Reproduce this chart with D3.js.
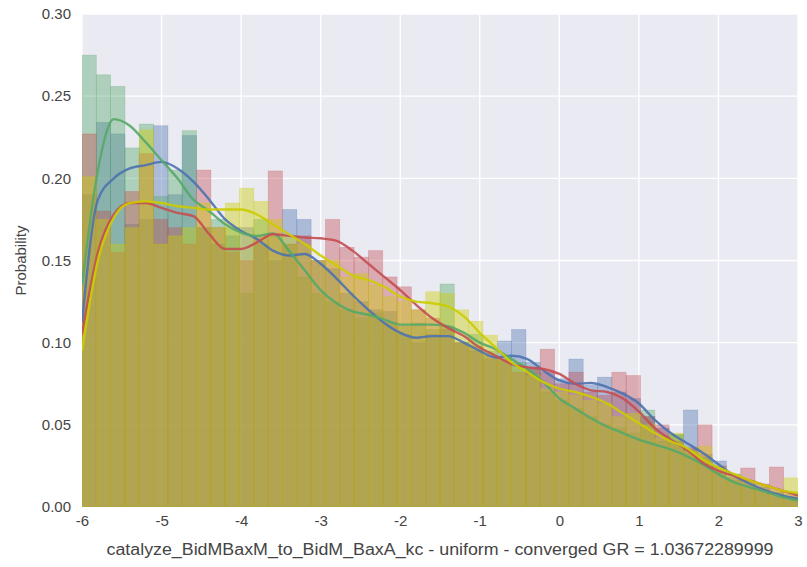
<!DOCTYPE html>
<html>
<head>
<meta charset="utf-8">
<script src="https://cdn.jsdelivr.net/npm/d3@7"></script>
<style>
  body { margin: 0; background: #fff; }
  text { font-family: "Liberation Sans", Arial, sans-serif; }
</style>
</head>
<body>
<div id="d3-container"></div>
<script>
// histogram bins: 50 bins from -6 to 3
const binStart = -6;
const binWidth = 0.18;

const seriesNames = ["chain0", "chain1", "chain2", "chain3"];

const blueHist = [0.19, 0.234, 0.227, 0.172, 0.175, 0.232, 0.19, 0.226, 0.17, 0.16,
  0.165, 0.17, 0.16, 0.15, 0.181, 0.175, 0.15, 0.145, 0.13, 0.125,
  0.12, 0.119, 0.105, 0.1, 0.105, 0.108, 0.1, 0.095, 0.09, 0.101,
  0.108, 0.088, 0.082, 0.078, 0.09, 0.074, 0.079, 0.07, 0.066, 0.055,
  0.048, 0.044, 0.059, 0.032, 0.028, 0.02, 0.016, 0.012, 0.009, 0.006];
const greenHist = [0.275, 0.263, 0.256, 0.2185, 0.233, 0.189, 0.205, 0.229, 0.17, 0.175,
  0.17, 0.13, 0.175, 0.165, 0.16, 0.14, 0.13, 0.125, 0.12, 0.115,
  0.118, 0.112, 0.11, 0.112, 0.108, 0.1357, 0.1, 0.105, 0.095, 0.09,
  0.088, 0.084, 0.07, 0.065, 0.06, 0.055, 0.05, 0.048, 0.045, 0.059,
  0.04, 0.044, 0.035, 0.03, 0.021, 0.016, 0.012, 0.009, 0.006, 0.004];
const redHist = [0.227, 0.18, 0.155, 0.192, 0.215, 0.175, 0.17, 0.16, 0.205, 0.17,
  0.155, 0.15, 0.165, 0.2045, 0.16, 0.165, 0.15, 0.175, 0.158, 0.152,
  0.156, 0.14, 0.134, 0.12, 0.115, 0.11, 0.1, 0.098, 0.092, 0.09,
  0.082, 0.085, 0.096, 0.075, 0.082, 0.07, 0.068, 0.082, 0.08, 0.055,
  0.05, 0.04, 0.036, 0.05, 0.025, 0.018, 0.0237, 0.014, 0.0243, 0.008];
const yellowHist = [0.201, 0.175, 0.16, 0.17, 0.2295, 0.16, 0.165, 0.17, 0.185, 0.17,
  0.185, 0.194, 0.186, 0.175, 0.165, 0.16, 0.15, 0.15, 0.14, 0.142,
  0.135, 0.128, 0.125, 0.12, 0.131, 0.13, 0.12, 0.113, 0.1045, 0.09,
  0.085, 0.08, 0.072, 0.07, 0.068, 0.065, 0.063, 0.055, 0.057, 0.05,
  0.042, 0.045, 0.034, 0.037, 0.024, 0.02, 0.016, 0.013, 0.01, 0.0177];

// kde curves, read at these x positions
const kdeX = [-6, -5.8, -5.6, -5.4, -5.2, -5.0, -4.8, -4.6, -4.4, -4.2,
  -4.0, -3.8, -3.6, -3.4, -3.2, -3.0, -2.8, -2.6, -2.4, -2.2,
  -2.0, -1.8, -1.6, -1.4, -1.2, -1.0, -0.8, -0.6, -0.4, -0.2,
  0, 0.2, 0.4, 0.6, 0.8, 1.0, 1.2, 1.4, 1.6, 1.8,
  2.0, 2.2, 2.4, 2.6, 2.8, 3.0];
const blueKde = [0.112, 0.187, 0.2, 0.206, 0.208, 0.21, 0.206, 0.198, 0.187, 0.175,
  0.168, 0.163, 0.156, 0.153, 0.154, 0.148, 0.139, 0.129, 0.12, 0.112,
  0.106, 0.103, 0.104, 0.104, 0.1, 0.095, 0.091, 0.092, 0.09, 0.083,
  0.077, 0.075, 0.0755, 0.073, 0.069, 0.063, 0.053, 0.045, 0.039, 0.033,
  0.026, 0.019, 0.014, 0.01, 0.007, 0.005];
const greenKde = [0.135, 0.205, 0.236, 0.232, 0.222, 0.211, 0.2, 0.187, 0.18, 0.172,
  0.167, 0.165, 0.1665, 0.156, 0.144, 0.132, 0.124, 0.119, 0.117, 0.114,
  0.111, 0.111, 0.111, 0.11, 0.106, 0.1, 0.096, 0.09, 0.084, 0.076,
  0.066, 0.06, 0.054, 0.049, 0.045, 0.041, 0.038, 0.035, 0.031, 0.026,
  0.02, 0.015, 0.012, 0.009, 0.006, 0.004];
const redKde = [0.105, 0.155, 0.178, 0.185, 0.185, 0.182, 0.179, 0.177, 0.166, 0.157,
  0.157, 0.161, 0.166, 0.165, 0.164, 0.1635, 0.162, 0.156, 0.148, 0.14,
  0.132, 0.123, 0.115, 0.109, 0.104, 0.097, 0.092, 0.087, 0.085, 0.084,
  0.081, 0.075, 0.071, 0.07, 0.066, 0.058, 0.048, 0.041, 0.035, 0.027,
  0.022, 0.019, 0.016, 0.013, 0.01, 0.007];
const yellowKde = [0.095, 0.15, 0.176, 0.185, 0.186, 0.185, 0.183, 0.182, 0.181, 0.181,
  0.181, 0.178, 0.172, 0.166, 0.16, 0.153, 0.147, 0.141, 0.138, 0.134,
  0.128, 0.125, 0.124, 0.122, 0.116, 0.106, 0.097, 0.088, 0.082, 0.076,
  0.072, 0.07, 0.067, 0.063, 0.057, 0.051, 0.045, 0.04, 0.036, 0.029,
  0.024, 0.02, 0.016, 0.013, 0.01, 0.0085];

const xTicks = [-6, -5, -4, -3, -2, -1, 0, 1, 2, 3];
const yTicks = [0, 0.05, 0.10, 0.15, 0.20, 0.25, 0.30];
const xLabel = "catalyze_BidMBaxM_to_BidM_BaxA_kc - uniform - converged GR = 1.03672289999";
const yLabel = "Probability";

const colors = ["#4c72b0", "#55a868", "#c44e52", "#cccc00"];
const hists = [blueHist, greenHist, redHist, yellowHist];
const kdes = [blueKde, greenKde, redKde, yellowKde];

const width = 807;
const height = 567;
const margin = {top: 14, bottom: 60, left: 82, right: 9};

const svg = d3.select('#d3-container')
  .append('svg')
  .attr('width', width)
  .attr('height', height);

const x = d3.scaleLinear()
  .domain([-6, 3])
  .range([margin.left, width - margin.right]);

const y = d3.scaleLinear()
  .domain([0, 0.30])
  .range([height - margin.bottom, margin.top]);

svg.append("defs").append("clipPath").attr("id", "clip")
  .append("rect")
  .attr("x", margin.left).attr("y", margin.top)
  .attr("width", x(3) - x(-6)).attr("height", y(0) - y(0.3));

svg.append("rect")
  .attr("x", margin.left).attr("y", margin.top)
  .attr("width", x(3) - x(-6)).attr("height", y(0) - y(0.3))
  .attr("fill", "#eaeaf2");

// grid
svg.append("g")
  .selectAll("line")
  .data(xTicks)
  .join("line")
  .attr("x1", d => x(d)).attr("x2", d => x(d))
  .attr("y1", y(0)).attr("y2", y(0.3))
  .attr("stroke", "#fff").attr("stroke-width", 1.4);

svg.append("g")
  .selectAll("line")
  .data(yTicks)
  .join("line")
  .attr("x1", x(-6)).attr("x2", x(3))
  .attr("y1", d => y(d)).attr("y2", d => y(d))
  .attr("stroke", "#fff").attr("stroke-width", 1.4);

const line = d3.line()
  .x((d, i) => x(kdeX[i]))
  .y(d => y(d))
  .curve(d3.curveMonotoneX);

const plot = svg.append("g").attr("clip-path", "url(#clip)");

hists.forEach((h, k) => {
  plot.append("g")
    .attr("class", seriesNames[k])
    .selectAll("rect")
    .data(h)
    .join("rect")
    .attr("x", (d, i) => x(binStart + i * binWidth))
    .attr("y", d => y(d))
    .attr("width", x(binStart + binWidth) - x(binStart))
    .attr("height", d => y(0) - y(d))
    .attr("fill", colors[k])
    .attr("fill-opacity", 0.4)
    .attr("stroke", colors[k])
    .attr("stroke-opacity", 0.3)
    .attr("stroke-width", 0.7);
});

// kde lines over the bars
kdes.forEach((kd, k) => {
  plot.append("path")
    .datum(kd)
    .attr("d", line)
    .attr("fill", "none")
    .attr("stroke", colors[k])
    .attr("stroke-opacity", 0.9)
    .attr("stroke-width", 2.4);
});

// axes (no tick marks, seaborn darkgrid style)
function xAxis(g) {
  g.attr("transform", `translate(0,${y(0)})`)
    .call(d3.axisBottom(x).tickValues(xTicks).tickSize(0).tickPadding(8).tickFormat(d => String(d)))
    .attr("font-size", '15px')
    .attr("font-family", null)
    .call(g => g.select(".domain").remove())
    .call(g => g.selectAll("text").attr("fill", "#444"));
}

function yAxis(g) {
  g.attr("transform", `translate(${margin.left}, 0)`)
    .call(d3.axisLeft(y).tickValues(yTicks).tickSize(0).tickPadding(11).tickFormat(d3.format(".2f")))
    .attr("font-size", '15px')
    .attr("font-family", null)
    .call(g => g.select(".domain").remove())
    .call(g => g.selectAll("text").attr("fill", "#444"));
}

svg.append("g").call(xAxis);
svg.append("g").call(yAxis);

svg.append("text")
  .attr("x", (x(-6) + x(3)) / 2)
  .attr("y", 555)
  .attr("text-anchor", "middle")
  .attr("font-size", "16px")
  .attr("fill", "#444")
  .attr("textLength", 667)
  .attr("lengthAdjust", "spacingAndGlyphs")
  .text(xLabel);

svg.append("text")
  .attr("transform", `translate(26,${(y(0) + y(0.3)) / 2}) rotate(-90)`)
  .attr("text-anchor", "middle")
  .attr("font-size", "15px")
  .attr("fill", "#444")
  .text(yLabel);
</script>
</body>
</html>
